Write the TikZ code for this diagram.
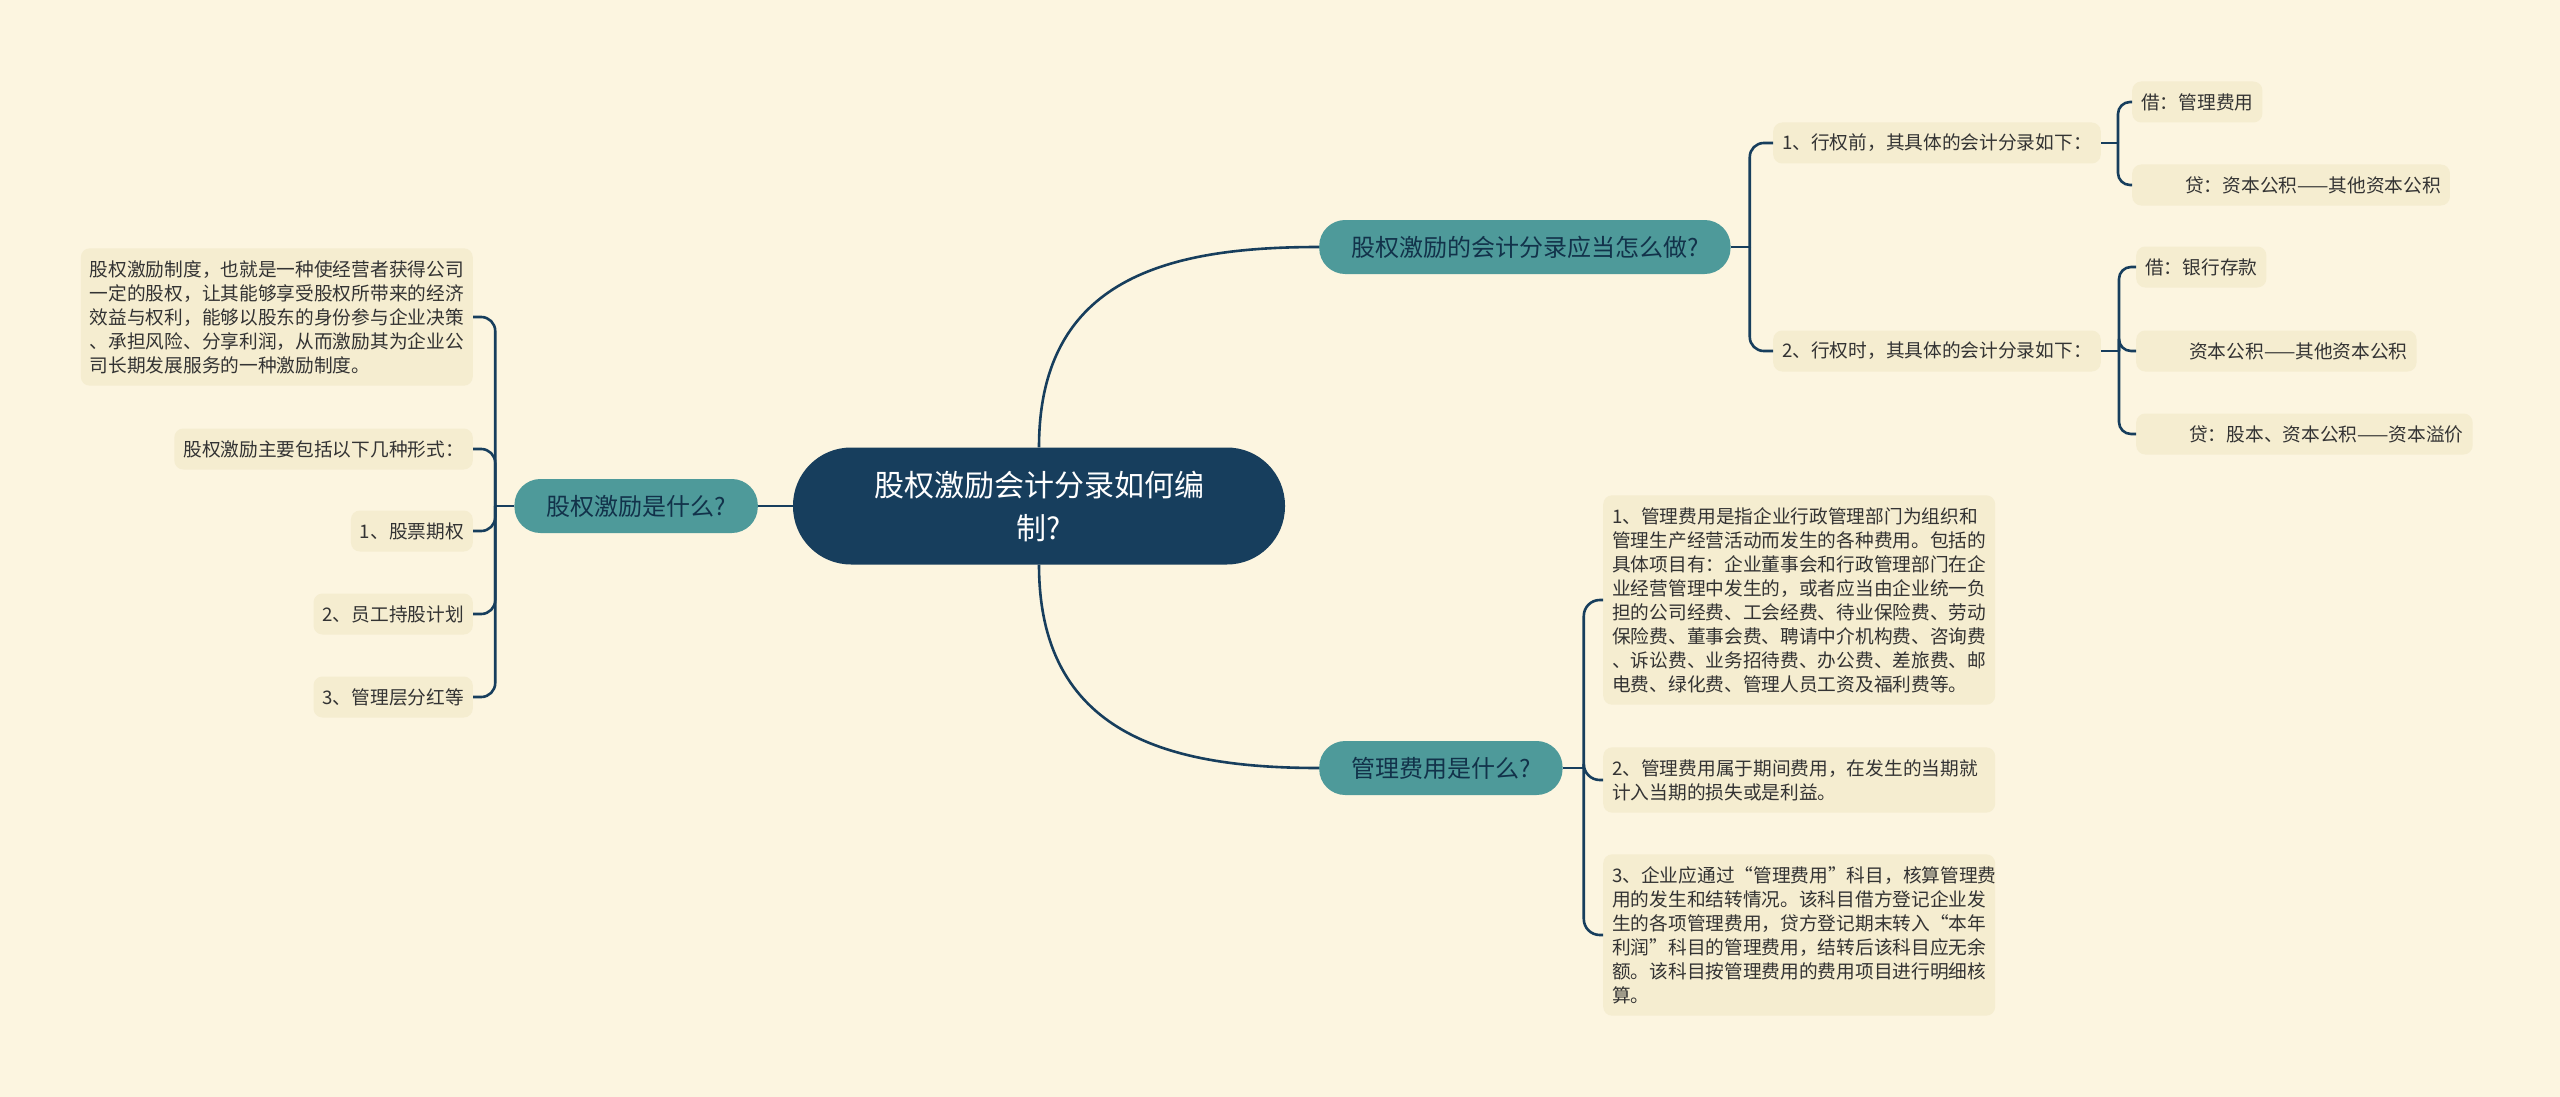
\documentclass[tikz,border=0pt]{standalone}
\usepackage{fontspec}
\setmainfont{Noto Sans CJK SC}
\usepackage{xcolor}
\definecolor{bgcream}{HTML}{FCF5E0}
\definecolor{leafcream}{HTML}{F5EDD0}
\definecolor{rootnavy}{HTML}{173E5D}
\definecolor{topicteal}{HTML}{4E9A9A}
\definecolor{inkgrey}{HTML}{333333}
\begin{document}
\begin{tikzpicture}[x=1pt,y=-1pt,
  rootnode/.style={fill=rootnavy,text=white,rounded corners=58,minimum width=492,minimum height=117,align=center,font=\fontsize{30}{43}\selectfont},
  topicnode/.style={fill=topicteal,text=rootnavy!80!black,rounded corners=26,minimum height=54,inner xsep=32,font=\fontsize{24}{28}\selectfont},
  leafnode/.style={fill=leafcream,text=inkgrey,rounded corners=9,minimum height=41,inner xsep=9,inner ysep=11,font=\fontsize{18.7}{24}\selectfont},
  longleaf/.style={leafnode,text width=374,align=left,inner ysep=12},
  conn/.style={draw=rootnavy,line width=2.6}]
\path[use as bounding box,fill=bgcream](0,0)rectangle(2560,1097);
\node[rootnode](root) at (1039,506){股权激励会计分录如何编\\制?};
\node[topicnode,anchor=east](qa) at (758,506){股权激励是什么?};
\node[topicnode,anchor=west](qb) at (1319,247){股权激励的会计分录应当怎么做?};
\node[topicnode,anchor=west](qc) at (1319,768){管理费用是什么?};
\node[longleaf,anchor=east](a0) at (473,317){股权激励制度，也就是一种使经营者获得公司\\一定的股权，让其能够享受股权所带来的经济\\效益与权利，能够以股东的身份参与企业决策\\、承担风险、分享利润，从而激励其为企业公\\司长期发展服务的一种激励制度。};
\node[leafnode,anchor=east](a1) at (473,449){股权激励主要包括以下几种形式：};
\node[leafnode,anchor=east](a2) at (473,531){1、股票期权};
\node[leafnode,anchor=east](a3) at (473,614){2、员工持股计划};
\node[leafnode,anchor=east](a4) at (473,697){3、管理层分红等};
\node[leafnode,anchor=west](b1) at (1773,143){1、行权前，其具体的会计分录如下：};
\node[leafnode,anchor=west](b2) at (1773,351){2、行权时，其具体的会计分录如下：};
\node[leafnode,anchor=west](b1a) at (2132,102){借：管理费用};
\node[leafnode,anchor=west](b1b) at (2132,185){\hspace{44pt}贷：资本公积——其他资本公积};
\node[leafnode,anchor=west](b2a) at (2136,267){借：银行存款};
\node[leafnode,anchor=west](b2b) at (2136,351){\hspace{44pt}资本公积——其他资本公积};
\node[leafnode,anchor=west](b2c) at (2136,434){\hspace{44pt}贷：股本、资本公积——资本溢价};
\node[longleaf,anchor=west](c1) at (1603,600){1、管理费用是指企业行政管理部门为组织和\\管理生产经营活动而发生的各种费用。包括的\\具体项目有：企业董事会和行政管理部门在企\\业经营管理中发生的，或者应当由企业统一负\\担的公司经费、工会经费、待业保险费、劳动\\保险费、董事会费、聘请中介机构费、咨询费\\、诉讼费、业务招待费、办公费、差旅费、邮\\电费、绿化费、管理人员工资及福利费等。};
\node[longleaf,anchor=west](c2) at (1603,780){2、管理费用属于期间费用，在发生的当期就\\计入当期的损失或是利益。};
\node[longleaf,anchor=west](c3) at (1603,935){3、企业应通过“管理费用”科目，核算管理费\\用的发生和结转情况。该科目借方登记企业发\\生的各项管理费用，贷方登记期末转入“本年\\利润”科目的管理费用，结转后该科目应无余\\额。该科目按管理费用的费用项目进行明细核\\算。};
\coordinate(ja) at ([xshift=-19]qa.west);
\coordinate(jb) at ([xshift=19]qb.east);
\coordinate(jc) at ([xshift=21]qc.east);
\coordinate(jb1) at ([xshift=17]b1.east);
\coordinate(jb2) at ([xshift=18]b2.east);
\draw[conn](root.west)--(qa.east);
\draw[conn](root.north)..controls +(0,-170) and +(-150,0)..(qb.west);
\draw[conn](root.south)..controls +(0,170) and +(-150,0)..(qc.west);
\draw[conn](qa.west)--(ja);
\foreach \leaf in {a0,a1,a2,a3,a4}
  \draw[conn,rounded corners=14](ja)|-(\leaf.east);
\draw[conn](qb.east)--(jb);
\foreach \leaf in {b1,b2}
  \draw[conn,rounded corners=14](jb)|-(\leaf.west);
\draw[conn](b1.east)--(jb1);
\foreach \leaf in {b1a,b1b}
  \draw[conn,rounded corners=12](jb1)|-(\leaf.west);
\draw[conn](b2.east)--(jb2);
\foreach \leaf in {b2a,b2b,b2c}
  \draw[conn,rounded corners=12](jb2)|-(\leaf.west);
\draw[conn](qc.east)--(jc);
\foreach \leaf in {c1,c2,c3}
  \draw[conn,rounded corners=16](jc)|-(\leaf.west);
\end{tikzpicture}
\end{document}
